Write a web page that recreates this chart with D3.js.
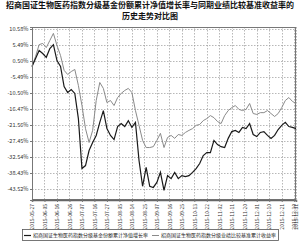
<!DOCTYPE html>
<html>
<head>
<meta charset="utf-8">
<script src="https://cdn.jsdelivr.net/npm/d3@7"></script>
<style>
  body { margin: 0; background: #fff; }
  svg { display: block; }
</style>
</head>
<body>
<div id="chart"></div>
<script>
// Data ///////////////////////////////////////////////////////////////////
const titleLines = ['招商国证生物医药指数分级基金份额累计净值增长率与同期业绩比较基准收益率的', '历史走势对比图']
const seriesNames = ['招商国证生物医药指数分级基金份额累计净值增长率', '招商国证生物医药指数分级业绩比较基准累计收益率']

// trading-day index of each sampled point (every 2nd trading day)
const dayIndex = [0, 2, 4, 6, 8, 10, 12, 14, 16, 18, 20, 22, 24, 26, 28, 30, 32, 34, 36, 38,
  40, 42, 44, 46, 48, 50, 52, 54, 56, 58, 60, 62, 64, 66, 68, 70, 72, 74, 76, 78,
  80, 82, 84, 86, 88, 90, 92, 94, 96, 98, 100, 102, 104, 106, 108, 110, 112, 114, 116, 118,
  120, 122, 124, 126, 128, 130, 132, 134, 136, 138, 140, 142, 144, 146, 148]

const fundValues = [-2.1, 0.6, 3.3, 2.3, 1.0, 4.0, 5.3, -0.1, -2.1, -8.9,
  -10.9, -9.9, -11.2, -19.7, -36.6, -35.6, -30.5, -27.8, -25.4, -21.0,
  -17.0, -23.1, -25.4, -26.8, -22.4, -21.4, -22.4, -20.4, -22.7, -21.0,
  -33.9, -42.6, -36.2, -42.6, -43.0, -41.3, -37.9, -44.0, -39.0, -40.0,
  -37.9, -40.0, -39.0, -39.3, -39.0, -37.9, -36.6, -34.9, -32.2, -31.2,
  -31.2, -27.1, -28.5, -29.2, -29.5, -26.4, -24.1, -23.7, -24.4, -22.7,
  -23.1, -21.4, -25.1, -25.8, -24.4, -24.1, -25.4, -26.4, -25.4, -23.4,
  -22.0, -21.0, -22.4, -22.7, -23.1]

const benchValues = [-2.1, 1.3, 5.3, 5.7, 4.3, 6.7, 9.1, 5.0, 1.6, -3.4,
  -4.8, -3.8, -3.1, -8.5, -15.3, -23.1, -27.8, -23.7, -13.6, -7.5,
  -9.5, -14.3, -13.6, -15.3, -12.6, -11.2, -10.2, -9.5, -10.9, -17.0,
  -22.0, -27.1, -29.5, -29.5, -29.2, -27.1, -24.7, -29.5, -26.1, -25.4,
  -26.4, -25.1, -25.4, -24.4, -23.7, -23.1, -22.0, -21.7, -20.4, -19.7,
  -18.7, -19.4, -20.7, -21.4, -18.7, -17.0, -16.0, -15.3, -16.6, -17.0,
  -16.6, -14.6, -18.0, -18.3, -17.7, -17.7, -17.0, -18.0, -19.0, -18.0,
  -16.0, -13.6, -12.6, -13.9, -14.6]

const yTickValues = [10.58, 5.17, -0.24, -5.65, -11.06, -16.47, -21.88, -27.29, -32.70, -38.11, -43.52]
const yTickLabels = ['10.58%', '5.49%', '0.50%', '-5.49%', '-10.50%', '-16.47%', '-21.56%', '-27.45%', '-32.54%', '-38.43%', '-43.52%']

const xTickIndex = [0, 7, 14, 21, 28, 35, 42, 49, 56, 63, 70, 77, 84, 91, 98, 105, 112, 119, 126, 133, 140, 147, 148]
const xTickLabels = ['2015-05-27', '2015-06-05', '2015-06-16', '2015-06-26', '2015-07-07', '2015-07-16',
  '2015-07-27', '2015-08-05', '2015-08-14', '2015-08-25', '2015-09-07', '2015-09-16', '2015-09-25',
  '2015-10-13', '2015-10-22', '2015-11-02', '2015-11-11', '2015-11-20', '2015-12-01', '2015-12-10',
  '2015-12-21', '2015-12-30', '2015-12-31']
///////////////////////////////////////////////////////////////////////////

const dimensions = {
  width: 300,
  height: 241,
  margin: { top: 27, right: 4, bottom: 41, left: 32 }
}
dimensions.ctrWidth = dimensions.width - dimensions.margin.left - dimensions.margin.right
dimensions.ctrHeight = dimensions.height - dimensions.margin.top - dimensions.margin.bottom

const svg = d3.select('#chart')
  .append('svg')
  .attr('width', dimensions.width)
  .attr('height', dimensions.height)

const font = '"Noto Sans CJK SC", "DejaVu Sans", sans-serif'

// Title
svg.append('g')
  .selectAll('text')
  .data(titleLines)
  .join('text')
  .attr('x', dimensions.width / 2)
  .attr('y', (d, i) => 8 + i * 11)
  .attr('text-anchor', 'middle')
  .attr('font-family', font)
  .attr('font-weight', 'bold')
  .attr('font-size', 8)
  .attr('fill', '#111')
  .text(d => d)

const ctr = svg.append('g')
  .attr('transform', `translate(${dimensions.margin.left}, ${dimensions.margin.top})`)

// Scales
const xScale = d3.scaleLinear()
  .domain([0, 148])
  .range([0, dimensions.ctrWidth])

const yScale = d3.scaleLinear()
  .domain([-47.24, 11.26])
  .range([dimensions.ctrHeight, 0])

// Grid
ctr.append('g')
  .selectAll('line')
  .data(yTickValues)
  .join('line')
  .attr('x1', 0)
  .attr('x2', dimensions.ctrWidth)
  .attr('y1', d => Math.round(yScale(d)) + 0.5)
  .attr('y2', d => Math.round(yScale(d)) + 0.5)
  .attr('stroke', '#999')
  .attr('stroke-width', 0.7)
  .attr('stroke-dasharray', '1.5,1.5')

ctr.append('g')
  .selectAll('line')
  .data(xTickIndex)
  .join('line')
  .attr('x1', d => Math.round(xScale(d)) + 0.5)
  .attr('x2', d => Math.round(xScale(d)) + 0.5)
  .attr('y1', 0)
  .attr('y2', dimensions.ctrHeight)
  .attr('stroke', '#999')
  .attr('stroke-width', 0.7)
  .attr('stroke-dasharray', '1.5,1.5')

// Frame
ctr.append('rect')
  .attr('x', 0.5)
  .attr('y', 0.5)
  .attr('width', dimensions.ctrWidth - 1)
  .attr('height', dimensions.ctrHeight - 1)
  .attr('fill', 'none')
  .attr('stroke', '#777')
  .attr('stroke-width', 1)

// Lines
const line = d3.line()
  .x((d, i) => xScale(dayIndex[i]))
  .y(d => yScale(d))

ctr.append('path')
  .datum(benchValues)
  .attr('d', line)
  .attr('fill', 'none')
  .attr('stroke', '#8a8a8a')
  .attr('stroke-width', 1)

ctr.append('path')
  .datum(fundValues)
  .attr('d', line)
  .attr('fill', 'none')
  .attr('stroke', '#1a1a1a')
  .attr('stroke-width', 1.2)

// Axes
const yAxis = d3.axisLeft(yScale)
  .tickValues(yTickValues)
  .tickFormat((d, i) => yTickLabels[i])
  .tickSize(2)
  .tickPadding(1.5)

const yAxisGroup = ctr.append('g').call(yAxis)
yAxisGroup.select('.domain').attr('stroke', '#777')
yAxisGroup.selectAll('.tick line').attr('stroke', '#777')
yAxisGroup.selectAll('text')
  .attr('font-family', font)
  .attr('font-size', 5.6)
  .attr('fill', '#333')

const xAxis = d3.axisBottom(xScale)
  .tickValues(xTickIndex)
  .tickFormat((d, i) => xTickLabels[i])
  .tickSize(2)

const xAxisGroup = ctr.append('g')
  .attr('transform', `translate(0, ${dimensions.ctrHeight})`)
  .call(xAxis)
xAxisGroup.select('.domain').attr('stroke', '#666').attr('stroke-width', 1.5)
xAxisGroup.selectAll('.tick line').attr('stroke', '#777')
xAxisGroup.selectAll('text')
  .attr('font-family', font)
  .attr('font-size', 5)
  .attr('fill', '#333')
  .attr('transform', 'rotate(-90)')
  .attr('text-anchor', 'end')
  .attr('x', -4)
  .attr('y', 0)
  .attr('dy', '0.35em')

// Legend
const legend = svg.append('g')
legend.append('rect')
  .attr('x', 22.5)
  .attr('y', 229.5)
  .attr('width', 256)
  .attr('height', 11)
  .attr('fill', '#fff')
  .attr('stroke', '#555')
  .attr('stroke-width', 0.8)

const legendItems = legend.selectAll('g.item')
  .data(seriesNames)
  .join('g')
  .attr('class', 'item')
  .attr('transform', (d, i) => `translate(${24 + i * 128}, 235.5)`)

legendItems.append('line')
  .attr('x1', 0)
  .attr('x2', 7)
  .attr('stroke', (d, i) => i === 0 ? '#1a1a1a' : '#8a8a8a')
  .attr('stroke-width', (d, i) => i === 0 ? 1.2 : 1)

legendItems.append('text')
  .attr('x', 9)
  .attr('dy', '0.35em')
  .attr('font-family', font)
  .attr('font-size', 5)
  .attr('fill', '#222')
  .text(d => d)
</script>
</body>
</html>
